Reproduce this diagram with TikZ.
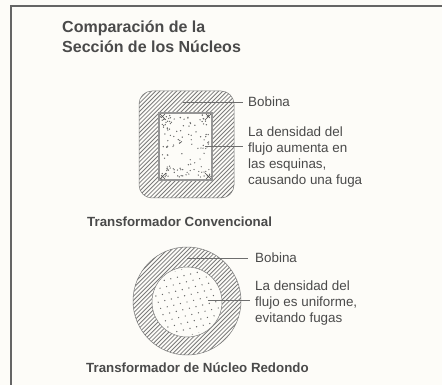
\documentclass[tikz,border=0pt]{standalone}
\usepackage{fontspec}
\setmainfont{Liberation Sans}
\definecolor{paper}{HTML}{FDFCF8}
\definecolor{ink}{HTML}{4A4A4A}
\definecolor{hatchc}{HTML}{7A7A7A}
\tikzset{
 lab/.style={anchor=north west,inner sep=0pt,text=ink,font=\fontsize{13.4}{16}\selectfont,align=left},
 captext/.style={anchor=west,inner sep=0pt,text=ink,font=\bfseries\fontsize{13.3}{15}\selectfont},
 ttl/.style={anchor=north west,inner sep=0pt,text=ink,font=\bfseries\fontsize{16}{20}\selectfont,align=left},
 leader/.style={draw=ink!80,line width=0.6pt},
 hatch/.style={draw=hatchc,line width=0.8pt},
 dotc/.style={fill=ink!85}
}
\begin{document}
\begin{tikzpicture}[x=1pt,y=-1pt]
\useasboundingbox (0,0) rectangle (442,385);
\fill[paper] (0,0) rectangle (442,385);
\draw[ink!85,line width=1.1pt] (442,6) -- (11,6) -- (11,385);
% square section
\begin{scope}
\clip[rounded corners=13pt] (139,91) rectangle (234,198);
\foreach \i in {0,...,50}{\draw[hatch] (20+\i*4.2,210) -- ++(130,-130);}
\end{scope}
\draw[hatchc,line width=0.5pt,rounded corners=13pt] (139,91) rectangle (234,198);
\fill[paper] (159,113) rectangle (212,180);
\draw[hatchc!80,line width=1.5pt] (159,113) rectangle (212,180);
\pgfmathsetseed{42}
\foreach \i in {1,...,55}{\pgfmathsetmacro\a{163+rnd*45}\pgfmathsetmacro\b{117+rnd*59}\fill[dotc] (\a,\b) circle (0.7pt);}
% denser along the edges
\foreach \i in {1,...,16}{\pgfmathsetmacro\a{163+rnd*45}\pgfmathsetmacro\b{116+rnd*8}\fill[dotc] (\a,\b) circle (0.7pt);
 \pgfmathsetmacro\a{163+rnd*45}\pgfmathsetmacro\b{169+rnd*8}\fill[dotc] (\a,\b) circle (0.7pt);}
\foreach \i in {1,...,10}{\pgfmathsetmacro\a{162+rnd*6}\pgfmathsetmacro\b{120+rnd*52}\fill[dotc] (\a,\b) circle (0.7pt);
 \pgfmathsetmacro\a{203+rnd*6}\pgfmathsetmacro\b{120+rnd*52}\fill[dotc] (\a,\b) circle (0.7pt);}
\foreach \c/\d/\sx/\sy in {160/114/1/1,211/114/-1/1,160/179/1/-1,211/179/-1/-1}{
 \foreach \i in {1,...,7}{\pgfmathsetmacro\a{\c+\sx*rnd*11}\pgfmathsetmacro\b{\d+\sy*rnd*11}\fill[dotc] (\a,\b) circle (0.7pt);}
 \draw[ink,line width=0.7pt] (\c,\d) -- ++(\sx*6,\sy*6) (\c+\sx*5,\d) -- ++(-\sx*4,\sy*4);
}
\coordinate (b1) at (183,102);
\coordinate (d1) at (205,146);
\node[lab] (bobina1) at (248,96.5) {Bobina};
\node[lab] (dens1) at (248,126.5) {La densidad del\\flujo aumenta en\\las esquinas,\\causando una fuga};
\coordinate (b1e) at (243,102);
\coordinate (d1e) at (243,146);
\draw[leader] (b1) -- (b1e);
\draw[leader] (d1) -- (d1e);
\node[captext] (conv) at (87,222) {Transformador Convencional};
% round section
\begin{scope}
\clip (187,301) circle (54);
\foreach \i in {0,...,54}{\draw[hatch] (5+\i*4.2,370) -- ++(130,-130);}
\end{scope}
\draw[hatchc,line width=0.5pt] (187,301) circle (54);
\fill[paper] (187,302) circle (35);
\draw[hatchc,line width=0.5pt] (187,302) circle (35);
\begin{scope}
\clip (187,302) circle (33);
\foreach \i in {-6,...,6}{\foreach \j in {-6,...,6}{
 \pgfmathsetmacro\a{187+\i*6.6+\j*2.4}\pgfmathsetmacro\b{302+\j*6.2-\i*1.6}
 \fill[dotc] (\a,\b) circle (0.7pt);}}
\end{scope}
\coordinate (b2) at (187,258);
\coordinate (d2) at (208,300);
\coordinate (b2e) at (248,258);
\coordinate (d2e) at (250,300);
\node[lab] (bobina2) at (255,253) {Bobina};
\node[lab] (dens2) at (255,280.5) {La densidad del\\flujo es uniforme,\\evitando fugas};
\draw[leader] (b2) -- (b2e);
\draw[leader] (d2) -- (d2e);
\node[captext] (red) at (86,368) {Transformador de Núcleo Redondo};
\node[ttl] (title) at (62,20.5) {Comparación de la\\Sección de los Núcleos};
\end{tikzpicture}
\end{document}
